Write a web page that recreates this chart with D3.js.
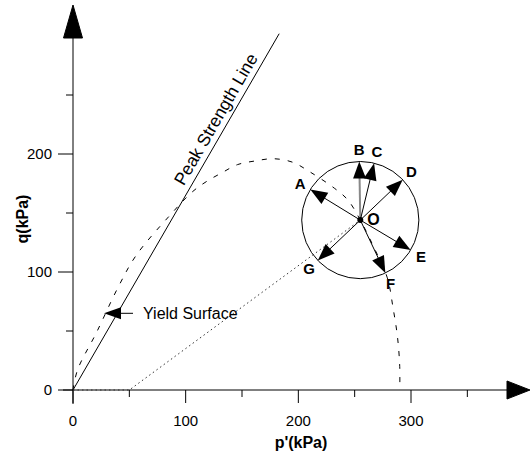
<!DOCTYPE html>
<html>
<head>
<meta charset="utf-8">
<script src="https://cdn.jsdelivr.net/npm/d3@7"></script>
<style>
    body { margin: 0; background: #fff; }
    svg { display: block; font-family: "Liberation Sans", Arial, sans-serif; }
</style>
</head>
<body>
<svg id="chart" width="532" height="457"></svg>
<script>
/**
 * Data.
 */
const xTicks = [0, 100, 200, 300],
    xMinorTicks = [50, 150, 250, 350],
    yTicks = [0, 100, 200],
    yMinorTicks = [50, 150, 250];

// Peak strength line: q = M p'
const peakSlope = 1.65,
    peakEnd = 183;

// Yield surface [p', q]
const yieldSurface = [
    [0, 0], [4, 17], [21, 49], [40, 87], [56, 114], [86, 148], [106, 168], [119, 177],
    [132, 184], [146, 191], [161, 194], [178, 196], [195, 193], [210, 185], [232, 171],
    [244, 161], [255, 144], [267, 121], [279, 95], [284, 70], [288, 45], [290, 20], [290, 0]
];

// Stress path [p', q]
const stressPath = [[0, 0], [50, 0], [255, 144]];

// Current state O and probing directions (degrees)
const stateO = { p: 255, q: 144, label: 'O' },
    probeRadius = 52,
    probeLabels = ['A', 'B', 'C', 'D', 'E', 'F', 'G'],
    probeAngles = [148.5, 91, 76.4, 43.6, -30.8, -64.7, -136.5];

const yieldLabelQ = 65,
    peakLabelP = 136;

/**
 * Visual configs.
 */
const svg = d3.select('#chart');
const x = d3.scaleLinear().domain([0, 300]).range([73, 411]),
    y = d3.scaleLinear().domain([0, 200]).range([390, 154]);

const tickFont = 15,
    labelFont = 16;

function arrowHead(g, tx, ty, angle, len, half) {
    // angle in screen radians, pointing from base to tip
    const bx = tx - len * Math.cos(angle), by = ty - len * Math.sin(angle),
        nx = -Math.sin(angle) * half, ny = Math.cos(angle) * half;
    g.append('path')
        .attr('d', 'M' + tx + ',' + ty + 'L' + (bx + nx) + ',' + (by + ny) + 'L' + (bx - nx) + ',' + (by - ny) + 'Z')
        .attr('fill', '#000');
}

/**
 * Axes.
 */
const axes = svg.append('g').attr('class', 'axes').attr('stroke', '#000').attr('stroke-width', 1);
axes.append('line').attr('x1', x(0) - 10).attr('x2', 508).attr('y1', y(0)).attr('y2', y(0));
axes.append('line').attr('x1', x(0)).attr('x2', x(0)).attr('y1', y(0) + 14).attr('y2', 37);
arrowHead(axes, 530, y(0), 0, 23, 9);
arrowHead(axes, x(0), 5, -Math.PI / 2, 33, 9.5);

axes.selectAll('.xt').data(xTicks).enter().append('line')
    .attr('x1', d => x(d)).attr('x2', d => x(d)).attr('y1', y(0)).attr('y2', y(0) + 13);
axes.selectAll('.xm').data(xMinorTicks).enter().append('line')
    .attr('x1', d => x(d)).attr('x2', d => x(d)).attr('y1', y(0)).attr('y2', y(0) + 7);
axes.selectAll('.yt').data(yTicks).enter().append('line')
    .attr('x1', x(0) - 15).attr('x2', x(0)).attr('y1', d => y(d)).attr('y2', d => y(d));
axes.selectAll('.ym').data(yMinorTicks).enter().append('line')
    .attr('x1', x(0) - 7).attr('x2', x(0)).attr('y1', d => y(d)).attr('y2', d => y(d));

svg.selectAll('.xl').data(xTicks).enter().append('text')
    .attr('x', d => x(d)).attr('y', 426)
    .attr('text-anchor', 'middle').attr('font-size', tickFont)
    .text(d => d);
svg.selectAll('.yl').data(yTicks).enter().append('text')
    .attr('x', 52).attr('y', d => y(d))
    .attr('dy', '0.35em')
    .attr('text-anchor', 'end').attr('font-size', tickFont)
    .text(d => d);

svg.append('text')
    .attr('x', 301).attr('y', 448)
    .attr('text-anchor', 'middle').attr('font-size', labelFont).attr('font-weight', 'bold')
    .text("p'(kPa)");
svg.append('text')
    .attr('transform', 'translate(28,219) rotate(-90)')
    .attr('text-anchor', 'middle').attr('font-size', labelFont).attr('font-weight', 'bold')
    .text('q(kPa)');

/**
 * Peak strength line.
 */
svg.append('line')
    .attr('x1', x(0)).attr('y1', y(0))
    .attr('x2', x(peakEnd)).attr('y2', y(peakSlope * peakEnd))
    .attr('stroke', '#000').attr('stroke-width', 1);

const pa = Math.atan2(y(peakSlope * peakEnd) - y(0), x(peakEnd) - x(0)),
    pmx = x(peakLabelP), pmy = y(peakSlope * peakLabelP);
svg.append('text')
    .attr('transform', 'translate(' + (pmx + 6 * Math.sin(pa)) + ',' + (pmy - 6 * Math.cos(pa)) + ') rotate(' + (pa * 180 / Math.PI) + ')')
    .attr('text-anchor', 'middle').attr('font-size', 17.5)
    .text('Peak Strength Line');

/**
 * Yield surface and stress path.
 */
const line = d3.line().x(d => x(d[0])).y(d => y(d[1]));
svg.append('path')
    .attr('d', line.curve(d3.curveCatmullRom)(yieldSurface))
    .attr('fill', 'none').attr('stroke', '#000').attr('stroke-width', 1)
    .attr('stroke-dasharray', '5,8');
svg.append('path')
    .attr('d', d3.line().x(d => x(d[0])).y(d => y(d[1]))(stressPath))
    .attr('fill', 'none').attr('stroke', '#333').attr('stroke-width', 1)
    .attr('stroke-dasharray', '1.5,3');

// Yield surface annotation
const ly = y(yieldLabelQ);
const ann = svg.append('g');
arrowHead(ann, 104, ly, Math.PI, 17, 6);
ann.append('line').attr('x1', 118).attr('x2', 133).attr('y1', ly).attr('y2', ly).attr('stroke', '#000');
ann.append('text')
    .attr('x', 143).attr('y', ly).attr('dy', '0.35em')
    .attr('font-size', 16)
    .text('Yield Surface');

/**
 * Probe circle.
 */
const ox = x(stateO.p), oy = y(stateO.q),
    R = x(probeRadius) - x(0);
const probe = svg.append('g').attr('class', 'probe');
probe.append('circle')
    .attr('cx', ox).attr('cy', oy).attr('r', R)
    .attr('fill', 'none').attr('stroke', '#000').attr('stroke-width', 1);

probeLabels.forEach((lab, i) => {
    const a = -probeAngles[i] * Math.PI / 180,
        tx = ox + R * Math.cos(a), ty = oy + R * Math.sin(a);
    probe.append('line')
        .attr('x1', ox).attr('y1', oy)
        .attr('x2', ox + (R - 12) * Math.cos(a)).attr('y2', oy + (R - 12) * Math.sin(a))
        .attr('stroke', lab === 'B' ? '#888' : '#000')
        .attr('stroke-width', lab === 'B' ? 2 : 1);
    arrowHead(probe, tx, ty, a, 17, 6.5);
    probe.append('text')
        .attr('x', ox + (R + 12) * Math.cos(a)).attr('y', oy + (R + 12) * Math.sin(a))
        .attr('dy', '0.36em')
        .attr('text-anchor', 'middle').attr('font-size', 15).attr('font-weight', 'bold')
        .text(lab);
});

probe.append('circle').attr('cx', ox).attr('cy', oy).attr('r', 3).attr('fill', '#000');
probe.append('text')
    .attr('x', ox + 7).attr('y', oy + 5)
    .attr('font-size', 16).attr('font-weight', 'bold')
    .text(stateO.label);
</script>
</body>
</html>
